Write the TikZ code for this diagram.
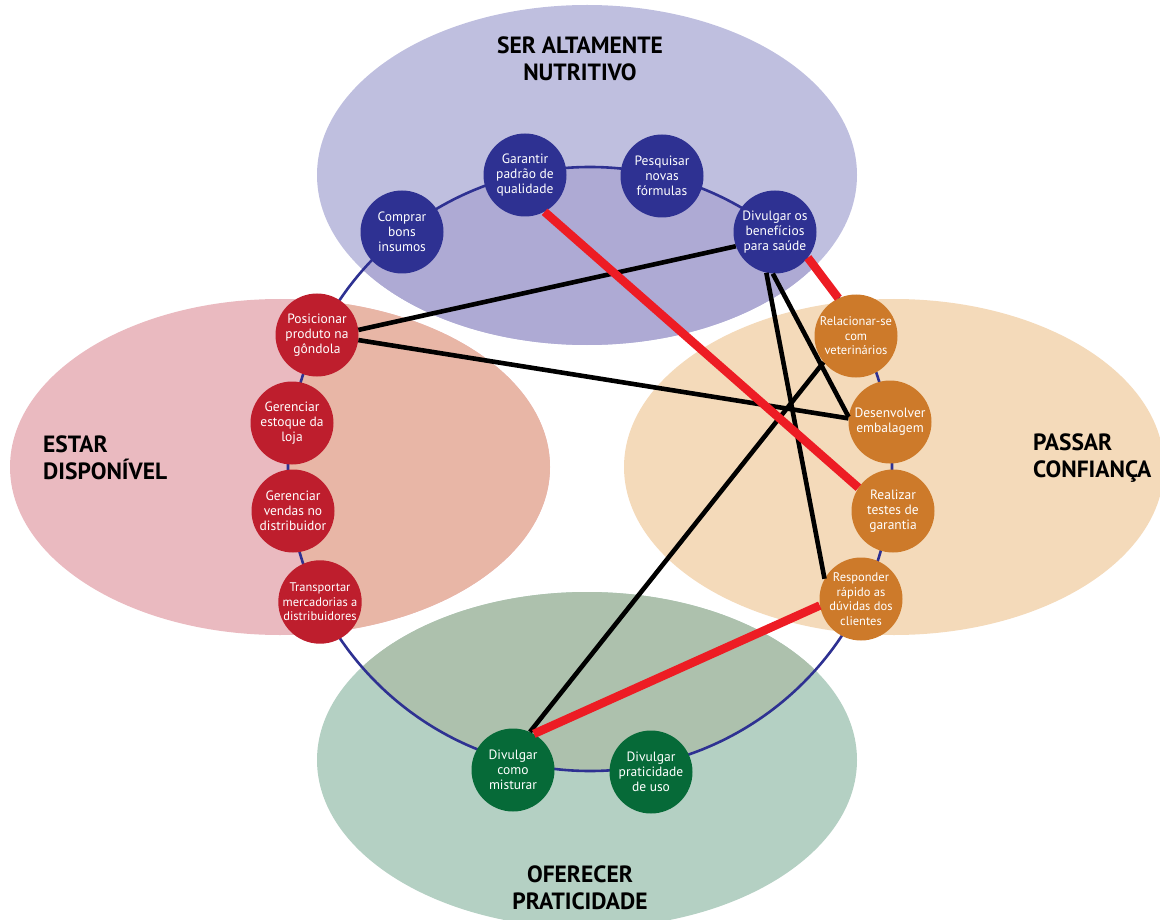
\documentclass[tikz,border=0pt]{standalone}
\usepackage{fontspec}
\setmainfont{PT Sans}
\definecolor{topout}{HTML}{BFBFDF}
\definecolor{topin}{HTML}{AEAAD4}
\definecolor{leftout}{HTML}{EABAC0}
\definecolor{leftin}{HTML}{E8B6A6}
\definecolor{rightout}{HTML}{F4DABA}
\definecolor{botout}{HTML}{B4D0C3}
\definecolor{botin}{HTML}{ADC1AD}
\definecolor{ringcol}{HTML}{2E3192}
\definecolor{nblue}{HTML}{2E3192}
\definecolor{nred}{HTML}{BE1E2D}
\definecolor{norange}{HTML}{CD7A2A}
\definecolor{ngreen}{HTML}{066A38}
\definecolor{redlink}{HTML}{ED1C24}
\begin{document}
\begin{tikzpicture}[x=1pt,y=-1pt,
  act/.style={circle, minimum size=83pt, inner sep=0pt, text=white, align=center,
    font=\fontsize{13.5}{15}\selectfont},
  small/.style={font=\fontsize{12.5}{14.5}\selectfont},
  blueact/.style={act, fill=nblue},
  redact/.style={act, fill=nred},
  orangeact/.style={act, fill=norange},
  greenact/.style={act, fill=ngreen},
  blacklink/.style={line width=4.6pt, black},
  redlinkstyle/.style={line width=8.5pt, redlink},
  goal/.style={font=\fontsize{23.5}{26.5}\selectfont\bfseries, align=center, inner sep=0pt}
]
\useasboundingbox (0,0) rectangle (1160,920);

% four goal areas
\fill[topout] (587,175) ellipse [x radius=270pt, y radius=170pt];
\fill[leftout] (280,467) ellipse [x radius=270pt, y radius=168pt];
\fill[rightout] (894,467) ellipse [x radius=270pt, y radius=168pt];
\fill[botout] (587,760) ellipse [x radius=270pt, y radius=168pt];

% darker tint of each area inside the ring
\begin{scope}
  \clip (590,469) circle [radius=302pt];
  \fill[topin] (587,175) ellipse [x radius=270pt, y radius=170pt];
  \fill[leftin] (280,467) ellipse [x radius=270pt, y radius=168pt];
  \fill[botin] (587,760) ellipse [x radius=270pt, y radius=168pt];
\end{scope}

% ring
\draw[ringcol, line width=2.6pt] (590,469) circle [radius=302pt];

% activities
\node[blueact] (comprar) at (402,232) {Comprar\\bons\\insumos};
\node[blueact] (garantir) at (525,175) {Garantir\\padrão de\\qualidade};
\node[blueact] (pesquisar) at (662,176) {Pesquisar\\novas\\fórmulas};
\node[blueact] (divben) at (775,232) {Divulgar os\\benefícios\\para saúde};

\node[redact] (posic) at (317,335) {Posicionar\\produto na\\gôndola};
\node[redact] (estoque) at (292,423) {Gerenciar\\estoque da\\loja};
\node[redact] (vendas) at (293,511) {Gerenciar\\vendas no\\distribuidor};
\node[redact, small] (transp) at (320,602) {Transportar\\mercadorias a\\distribuidores};

\node[orangeact, small] (relac) at (856,336) {Relacionar-se\\com\\veterinários};
\node[orangeact] (desenv) at (890,422) {Desenvolver\\embalagem};
\node[orangeact] (testes) at (893,511) {Realizar\\testes de\\garantia};
\node[orangeact, small] (respond) at (861,599) {Responder\\rápido as\\dúvidas dos\\clientes};

\node[greenact] (misturar) at (513,770) {Divulgar\\como\\misturar};
\node[greenact] (pratic) at (651,772) {Divulgar\\praticidade\\de uso};

% links between activities
\draw[blacklink] (posic.7) -- (divben.200);
\draw[blacklink] (posic.-7) -- (desenv.175);
\draw[blacklink] (divben.267) -- (desenv.173);
\draw[blacklink] (divben.258) -- (respond.151);
\draw[blacklink] (relac.219) -- (misturar.66);
\draw[redlinkstyle] (garantir.298) -- (testes.146);
\draw[redlinkstyle] (divben.322) -- (relac.115);
\draw[redlinkstyle] (respond.189) -- (misturar.60);

% goal titles
\node[goal] (tnutri) at (580,59) {SER ALTAMENTE\\NUTRITIVO};
\node[goal, anchor=west, align=left] (tdisp) at (43,458) {ESTAR\\DISPONÍVEL};
\node[goal, anchor=west, align=left] (tconf) at (1033,458) {PASSAR\\CONFIANÇA};
\node[goal] (tprat) at (580,888) {OFERECER\\PRATICIDADE};
\end{tikzpicture}
\end{document}
